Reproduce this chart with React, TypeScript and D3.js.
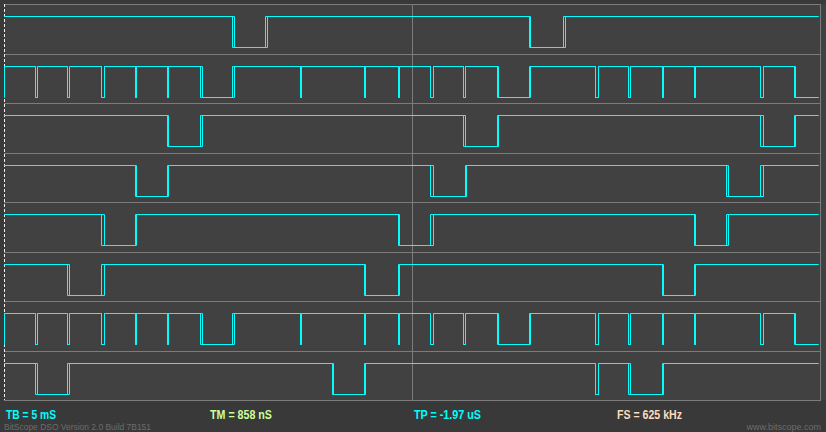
import React from "react";
import * as d3 from "d3";

// logic capture, 8 channels, two overlaid sweeps (A, B) per channel
// edge times in ms, [sweepA, sweepB]
const CH0_EDGES = [[14.03, 14.15], [16.05, 16.12], [32.23, 32.29], [34.31, 34.38]];
const CH1_EDGES = [
  [0.02, 0.06],
  [1.96, 1.96], [2.08, 2.08],
  [3.92, 3.92], [4.04, 4.04],
  [6.0, 6.0], [6.13, 6.13],
  [8.03, 8.03], [8.09, 8.09],
  [9.99, 9.99], [10.11, 10.11],
  [12.07, 12.19], [14.03, 14.15],
  [18.14, 18.14], [18.2, 18.2],
  [22.12, 22.12], [22.18, 22.18],
  [24.2, 24.2], [24.26, 24.26],
  [26.16, 26.16], [26.29, 26.29],
  [28.13, 28.13], [28.25, 28.25],
  [30.21, 30.33], [32.23, 32.29],
  [36.27, 36.27], [36.4, 36.4],
  [38.24, 38.24], [38.36, 38.36],
  [40.32, 40.32], [40.44, 40.44],
  [42.34, 42.34], [42.4, 42.4],
  [46.38, 46.38], [46.51, 46.51],
  [48.41, 48.47],
];
const CH2_EDGES = [[9.99, 10.11], [12.07, 12.19], [28.13, 28.25], [30.21, 30.33], [46.38, 46.51], [48.41, 48.47]];
const CH3_EDGES = [[8.03, 8.09], [9.99, 10.11], [26.16, 26.29], [28.25, 28.37], [44.3, 44.42], [46.38, 46.51]];
const CH4_EDGES = [[6.0, 6.13], [8.03, 8.09], [24.2, 24.26], [26.16, 26.29], [42.34, 42.4], [44.3, 44.42]];
const CH5_EDGES = [[3.92, 4.04], [6.0, 6.13], [22.12, 22.18], [24.2, 24.26], [40.32, 40.44], [42.34, 42.4]];
const CH6_EDGES = CH1_EDGES;
const CH7_EDGES = [
  [1.96, 2.08], [3.92, 4.04],
  [20.1, 20.22], [22.12, 22.18],
  [36.27, 36.27], [36.4, 36.4],
  [38.24, 38.36], [40.32, 40.44],
];

const CHANNEL_EDGES = [CH0_EDGES, CH1_EDGES, CH2_EDGES, CH3_EDGES, CH4_EDGES, CH5_EDGES, CH6_EDGES, CH7_EDGES];
const START_LEVELS = [1, 0, 1, 1, 1, 1, 0, 1];

const TIME_SPAN_MS = 50; // 10 div x 5 mS
const TRACE_END_MS = 49.9;

const READOUTS = [
  { text: "TB = 5 mS", color: "#00ffff" },
  { text: "TM = 858 nS", color: "#ccff99" },
  { text: "TP = -1.97 uS", color: "#00ffff" },
  { text: "FS = 625 kHz", color: "#ffdcbe" },
];

const W = 826;
const H = 432;
const left = 4;
const right = 820;
const top = 4;
const bottom = 400;

export default function App() {
  const x = d3.scaleLinear().domain([0, TIME_SPAN_MS]).range([left, right]);
  const lanes = d3.scaleBand().domain(d3.range(8)).range([top, bottom]);
  const crisp = (v) => Math.floor(v) + 0.5;

  const buildPath = (edges, startLevel, lane, sweep) => {
    const y = d3.scaleLinear().domain([0, 1]).range([lanes(lane) + 43.5, lanes(lane) + 12.5]);
    let lvl = startLevel;
    const pts = [{ t: 0, v: lvl }];
    edges.forEach((e) => {
      lvl = 1 - lvl;
      pts.push({ t: e[sweep], v: lvl });
    });
    pts.push({ t: TRACE_END_MS, v: lvl });
    const line = d3
      .line()
      .x((d) => crisp(x(d.t)))
      .y((d) => crisp(y(d.v)))
      .curve(d3.curveStepAfter);
    return line(pts);
  };

  // readout positions / widths (the scope uses a narrow bitmap font)
  const readoutX = [6, 210, 414, 617];
  const readoutW = [50, 62, 67, 65];

  return (
    <svg
      width={W}
      height={H}
      style={{ position: "absolute", left: 0, top: 0, display: "block" }}
    >
      <rect x={0} y={0} width={W} height={H} fill="#393939" />
      <rect x={left} y={top} width={W - left} height={bottom - top} fill="#414141" />

      {/* lane separators */}
      {d3.range(9).map((i) => {
        const yy = Math.round(top + i * lanes.step()) + 0.5;
        return (
          <line key={"h" + i} x1={left} x2={right + 0.5} y1={yy} y2={yy} stroke="#7c7c7c" strokeWidth={1} />
        );
      })}
      <line x1={crisp(right)} x2={crisp(right)} y1={top} y2={bottom + 1} stroke="#7c7c7c" />
      <line x1={crisp(x(25))} x2={crisp(x(25))} y1={top} y2={bottom + 1} stroke="#7c7c7c" />
      <line
        x1={crisp(left)}
        x2={crisp(left)}
        y1={top}
        y2={bottom}
        stroke="#f0f0f0"
        strokeDasharray="3,2"
      />

      {/* traces */}
      <g fill="none" stroke="#00ffff" strokeWidth={1}>
        {CHANNEL_EDGES.map((edges, i) =>
          [0, 1].map((s) => (
            <path key={i + "-" + s} d={buildPath(edges, START_LEVELS[i], i, s)} />
          ))
        )}
      </g>

      {READOUTS.map((r, i) => (
        <text
          key={r.text}
          x={readoutX[i]}
          y={419.3}
          fill={r.color}
          fontFamily="Liberation Sans, Arial, sans-serif"
          fontWeight="bold"
          fontSize={12.5}
          textLength={readoutW[i]}
          lengthAdjust="spacingAndGlyphs"
        >
          {r.text}
        </text>
      ))}
      <text
        x={4}
        y={430.3}
        fill="#6c6c6c"
        fontFamily="Liberation Sans, Arial, sans-serif"
        fontSize={9}
        textLength={147}
        lengthAdjust="spacingAndGlyphs"
      >
        BitScope DSO Version 2.0 Build 7B151
      </text>
      <text
        x={821}
        y={430.3}
        textAnchor="end"
        fill="#6c6c6c"
        fontFamily="Liberation Sans, Arial, sans-serif"
        fontSize={9}
      >
        www.bitscope.com
      </text>
    </svg>
  );
}
